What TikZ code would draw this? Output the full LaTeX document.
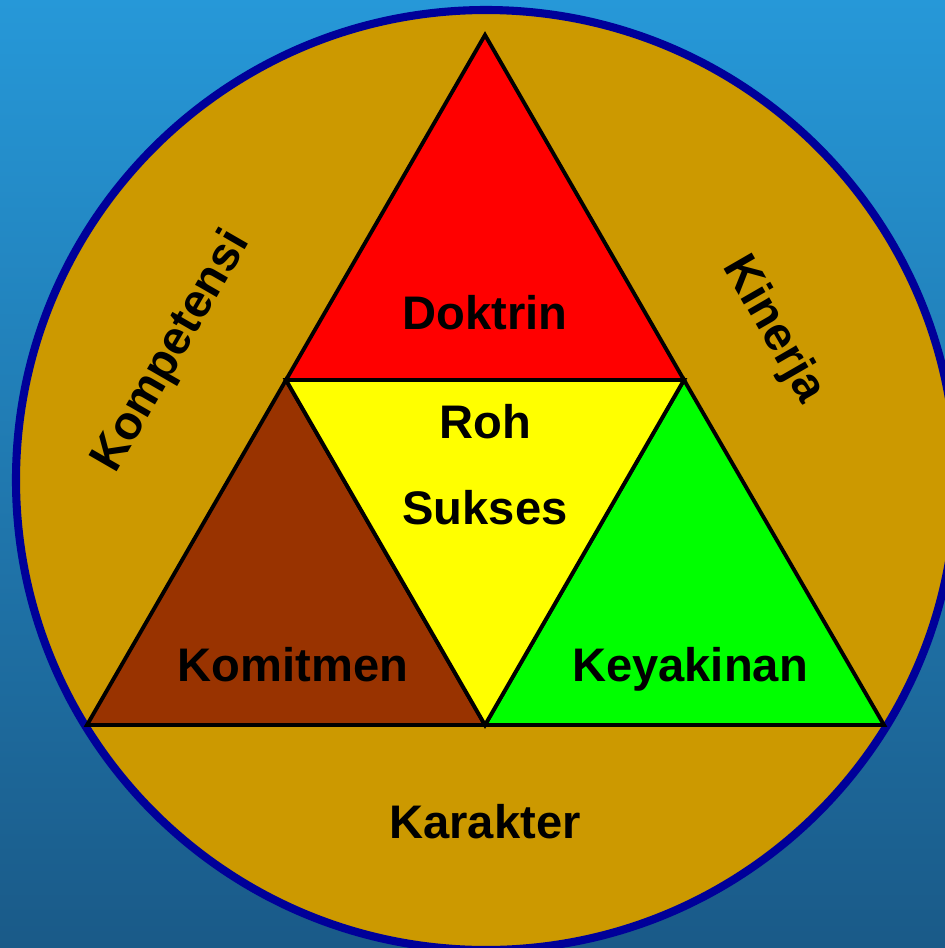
\documentclass[tikz,border=0pt]{standalone}
\usepackage{fontspec}
\setmainfont{Liberation Sans}
\definecolor{bgtop}{RGB}{38,152,216}
\definecolor{bgbot}{RGB}{26,90,136}
\definecolor{ringblue}{RGB}{0,0,153}
\definecolor{gold}{RGB}{204,153,0}
\definecolor{brown}{RGB}{153,51,0}
\definecolor{pureyellow}{RGB}{255,255,0}
\begin{document}
\begin{tikzpicture}[x=0.01cm,y=-0.01cm, line width=1pt]
  \tikzstyle{lbl} = [font=\fontsize{13.4}{16}\selectfont\bfseries, text=black, inner sep=0pt]
  \tikzstyle{tri} = [draw=black, line width=1.1pt, line join=miter]

  % Arka plan
  \shade[top color=bgtop, bottom color=bgbot] (0,0) rectangle (945,948);
  \useasboundingbox (0,0) rectangle (945,948);

  % Daire
  \coordinate (center) at (486,480);
  \draw[fill=gold, draw=ringblue, line width=2.3pt] (center) circle (470);

  % Ucgen koseleri
  \coordinate (top) at (485,35);
  \coordinate (left) at (87,725);
  \coordinate (right) at (884,725);
  \coordinate (midl) at (286,380);
  \coordinate (midr) at (684,380);
  \coordinate (midb) at (485,725);

  % Ucgenler
  \draw[tri, fill=red] (top) -- (midl) -- (midr) -- cycle;
  \draw[tri, fill=brown] (midl) -- (left) -- (midb) -- cycle;
  \draw[tri, fill=green] (midr) -- (midb) -- (right) -- cycle;
  \draw[tri, fill=pureyellow] (midl) -- (midr) -- (midb) -- cycle;

  % Etiketler
  \node[lbl] (doktrin) at (485,313) {Doktrin};
  \node[lbl] (roh) at (485,422) {Roh};
  \node[lbl] (sukses) at (485,508) {Sukses};
  \node[lbl, anchor=base] (komitmen) at (293,681) {Komitmen};
  \node[lbl, anchor=base] (keyakinan) at (690,681) {Keyakinan};
  \node[lbl] (karakter) at (485,822) {Karakter};
  \node[lbl, rotate=60] (kompetensi) at (172,352) {Kompetensi};
  \node[lbl, rotate=-60] (kinerja) at (773,330) {Kinerja};
\end{tikzpicture}
\end{document}
